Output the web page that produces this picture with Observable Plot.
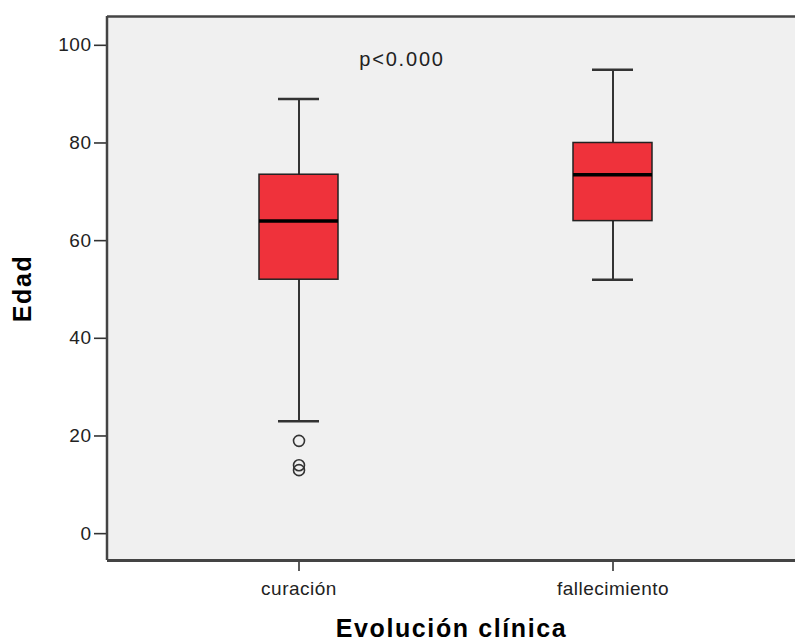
<!DOCTYPE html>
<html>
<head>
<meta charset="utf-8">
<script src="https://cdn.jsdelivr.net/npm/d3@7"></script>
<script src="https://cdn.jsdelivr.net/npm/@observablehq/plot@0.6"></script>
<style>
  html, body { margin: 0; padding: 0; background: #fff; }
</style>
</head>
<body>
<div id="chart"></div>
<script>
const groups = ["curación", "fallecimiento"];
const lowWhisker = [23, 52];
const q1 = [52, 64];
const median = [64, 73.5];
const q3 = [73.5, 80];
const highWhisker = [89, 95];
const outlierGroup = ["curación", "curación", "curación"];
const outlierValues = [19, 14, 13];
const yTicks = [0, 20, 40, 60, 80, 100];
const annotation = ["p<0.000"];
const annotationGroup = "curación";
const annotationValue = 97;
const yTitle = "Edad";
const xTitle = "Evolución clínica";

const boxes = groups.map((g, i) => ({
  group: g, lo: lowWhisker[i], q1: q1[i], med: median[i], q3: q3[i], hi: highWhisker[i]
}));
const outliers = outlierValues.map((v, i) => ({ group: outlierGroup[i], value: v }));

const dark = "#333";
const chart = Plot.plot({
  width: 795,
  height: 644,
  marginLeft: 107,
  marginRight: 0,
  marginTop: 16,
  marginBottom: 84,
  style: { fontFamily: "Liberation Sans, Arial, sans-serif", fontSize: "19px", background: "#fff", color: "#222" },
  x: { domain: groups, paddingInner: 0.75, paddingOuter: 0.47, align: 0.515, label: null },
  y: { domain: [-5.5, 105.9], label: null },
  marks: [
    Plot.frame({ fill: "#f0f0f0", stroke: "none" }),
    Plot.axisY({ ticks: yTicks, tickSize: 13, tickPadding: 3, label: null, stroke: dark, strokeWidth: 1.6, fontSize: 19 }),
    Plot.axisX({ tickSize: 11, tickPadding: 10, label: null, stroke: dark, strokeWidth: 1.6, fontSize: 19 }),
    Plot.ruleX(boxes, { x: "group", y1: "lo", y2: "hi", stroke: dark, strokeWidth: 2 }),
    Plot.tickY(boxes, { x: "group", y: "lo", stroke: dark, strokeWidth: 2.5, insetLeft: 19, insetRight: 19 }),
    Plot.tickY(boxes, { x: "group", y: "hi", stroke: dark, strokeWidth: 2.5, insetLeft: 19, insetRight: 19 }),
    Plot.barY(boxes, { x: "group", y1: "q1", y2: "q3", fill: "#ef323b", stroke: "#222", strokeWidth: 1.5 }),
    Plot.tickY(boxes, { x: "group", y: "med", stroke: "#000", strokeWidth: 3.5 }),
    Plot.dot(outliers, { x: "group", y: "value", r: 5.5, stroke: dark, strokeWidth: 1.6, fill: "none" }),
    Plot.text(annotation, { x: () => annotationGroup, y: () => annotationValue, text: d => d, dx: 103, fontSize: 20, fill: "#222" }),
    Plot.text([yTitle], { frameAnchor: "left", text: d => d, rotate: -90, dx: -85, textAnchor: "middle", lineAnchor: "middle", fontSize: 25, fontWeight: "bold", fill: "#000" }),
    Plot.text([xTitle], { frameAnchor: "bottom", text: d => d, dy: 68, textAnchor: "middle", lineAnchor: "middle", fontSize: 25, fontWeight: "bold", fill: "#000" }),
    Plot.ruleY([0], { y: () => -5.5, stroke: "#444", strokeWidth: 3 }),
    Plot.ruleY([0], { y: () => 105.9, stroke: "#444", strokeWidth: 2.5 })
  ]
});
document.getElementById("chart").append(chart);
const svg = d3.select(chart);
svg.selectAll("text").style("letter-spacing", "0.5px");
svg.append("line")
  .attr("x1", 107).attr("x2", 107).attr("y1", 16).attr("y2", 560)
  .attr("stroke", "#444").attr("stroke-width", 2.5);
svg.selectAll("text").filter(function() { return this.textContent === yTitle || this.textContent === xTitle; })
  .style("letter-spacing", "1.6px");
svg.selectAll("text").filter(function() { return this.textContent === annotation[0]; })
  .style("letter-spacing", "1.8px");
</script>
</body>
</html>
